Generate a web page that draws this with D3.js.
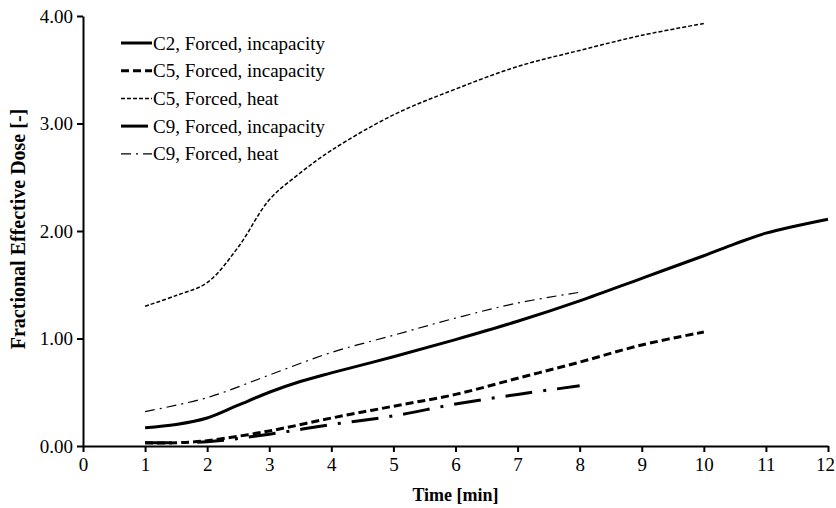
<!DOCTYPE html>
<html>
<head>
<meta charset="utf-8">
<script src="https://cdn.jsdelivr.net/npm/d3@7"></script>
<style>
  body { margin: 0; background: #fff; }
  svg { display: block; font-family: "Liberation Serif", "Times New Roman", serif; }
</style>
</head>
<body>
<div id="chart"></div>
<script>
// time [min] and FED values
const c2IncapX = [1, 1.5, 2, 2.5, 3, 3.5, 4, 5, 6, 7, 8, 9, 10, 10.5, 11, 12];
const c2IncapY = [0.17, 0.20, 0.26, 0.38, 0.50, 0.60, 0.68, 0.83, 0.99, 1.16, 1.35, 1.56, 1.77, 1.88, 1.98, 2.11];

const c5IncapX = [1, 1.5, 2, 3, 4, 5, 6, 7, 8, 9, 10];
const c5IncapY = [0.03, 0.03, 0.05, 0.14, 0.26, 0.37, 0.48, 0.63, 0.78, 0.94, 1.06];

const c5HeatX = [1, 1.5, 2, 2.5, 3, 3.5, 4, 5, 6, 7, 8, 9, 10];
const c5HeatY = [1.30, 1.40, 1.52, 1.85, 2.29, 2.54, 2.75, 3.08, 3.32, 3.53, 3.68, 3.82, 3.93];

const c9IncapX = [1, 2, 3, 4, 5, 6, 7, 8];
const c9IncapY = [0.03, 0.04, 0.11, 0.20, 0.28, 0.39, 0.48, 0.56];

const c9HeatX = [1, 2, 3, 4, 5, 6, 7, 8];
const c9HeatY = [0.32, 0.45, 0.66, 0.87, 1.03, 1.19, 1.33, 1.43];

const xTicks = [0, 1, 2, 3, 4, 5, 6, 7, 8, 9, 10, 11, 12];
const yTicks = [0, 1, 2, 3, 4];

const series = [
  { name: "C2, Forced, incapacity", xs: c2IncapX, ys: c2IncapY, width: 3, dash: null },
  { name: "C5, Forced, incapacity", xs: c5IncapX, ys: c5IncapY, width: 3, dash: "8,4" },
  { name: "C5, Forced, heat", xs: c5HeatX, ys: c5HeatY, width: 1.5, dash: "4,2" },
  { name: "C9, Forced, incapacity", xs: c9IncapX, ys: c9IncapY, width: 3, dash: "27,11,3,11" },
  { name: "C9, Forced, heat", xs: c9HeatX, ys: c9HeatY, width: 1.2, dash: "10,5,2,5" }
];

const W = 836, H = 508;
const margin = { top: 16, right: 8, bottom: 62, left: 83 };
const width = W - margin.left - margin.right;
const height = H - margin.top - margin.bottom;

const svg = d3.select("#chart").append("svg")
  .attr("width", W)
  .attr("height", H);

const g = svg.append("g")
  .attr("transform", `translate(${margin.left},${margin.top})`);

const x = d3.scaleLinear().domain([0, 12]).range([0, width]);
const y = d3.scaleLinear().domain([0, 4]).range([height, 0]);

// axes
const xAxis = g.append("g")
  .attr("transform", `translate(0,${height})`)
  .call(d3.axisBottom(x).tickValues(xTicks).tickFormat(d3.format("d")).tickSize(6).tickSizeOuter(0).tickPadding(6));

const yAxis = g.append("g")
  .call(d3.axisLeft(y).tickValues(yTicks).tickFormat(d3.format(".2f")).tickSize(6).tickSizeOuter(0).tickPadding(4));

[xAxis, yAxis].forEach(a => {
  a.select(".domain").attr("stroke", "#000").attr("stroke-width", 2);
  a.selectAll(".tick line").attr("stroke", "#000").attr("stroke-width", 2);
  a.selectAll(".tick text")
    .attr("fill", "#000")
    .style("font-family", "Liberation Serif, Times New Roman, serif")
    .style("font-size", "19px");
});

// keep the last x label inside the page
xAxis.selectAll(".tick text").filter(d => d === 12).attr("dx", -3);

// axis titles
g.append("text")
  .attr("x", width / 2)
  .attr("y", height + 55)
  .attr("text-anchor", "middle")
  .style("font-size", "18px")
  .style("font-weight", "bold")
  .text("Time [min]");

g.append("text")
  .attr("transform", "rotate(-90)")
  .attr("x", -height / 2 + 2)
  .attr("y", -58)
  .attr("text-anchor", "middle")
  .style("font-size", "20px")
  .style("font-weight", "bold")
  .text("Fractional Effective Dose [-]");

// lines
const line = d3.line()
  .x(d => x(d[0]))
  .y(d => y(d[1]))
  .curve(d3.curveCatmullRom.alpha(0.5));

series.forEach(s => {
  g.append("path")
    .datum(s.xs.map((v, i) => [v, s.ys[i]]))
    .attr("fill", "none")
    .attr("stroke", "#000")
    .attr("stroke-width", s.width)
    .attr("stroke-dasharray", s.dash)
    .attr("d", line);
});

// legend
const legend = svg.append("g").attr("transform", "translate(121,43)");
series.forEach((s, i) => {
  const row = legend.append("g").attr("transform", `translate(0,${i * 27.7})`);
  row.append("line")
    .attr("x1", 0).attr("x2", 31)
    .attr("stroke", "#000")
    .attr("stroke-width", s.width)
    .attr("stroke-dasharray", s.dash);
  row.append("text")
    .attr("x", 32)
    .attr("dy", "0.35em")
    .style("font-size", "19px")
    .text(s.name);
});
</script>
</body>
</html>
